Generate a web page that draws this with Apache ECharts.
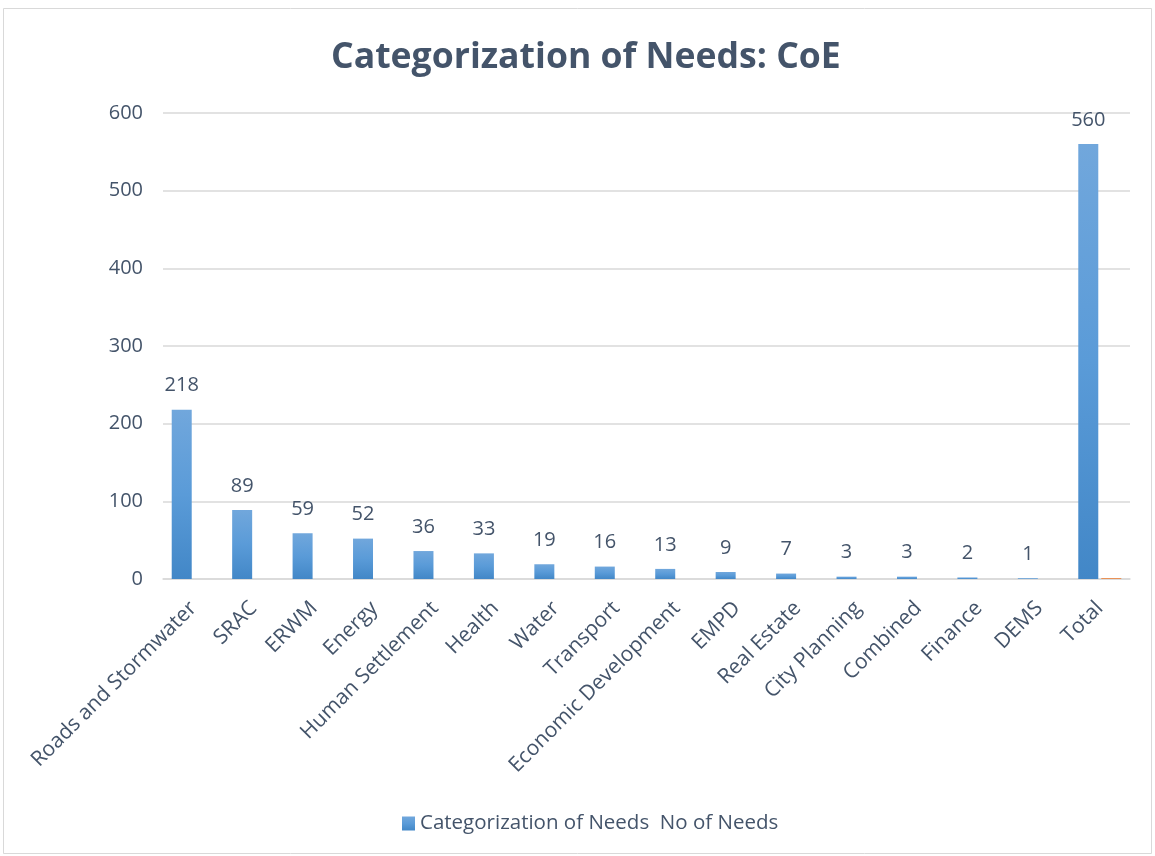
<!DOCTYPE html>
<html>
<head>
<meta charset="utf-8">
<script src="https://cdn.jsdelivr.net/npm/echarts@6/dist/echarts.min.js"></script>
<style>
  html, body { margin: 0; padding: 0; background: #ffffff; }
  #chart { width: 1155px; height: 856px; }
</style>
</head>
<body>
<div id="chart"></div>
<script>
// Needs per category for CoE
const categories = [
  'Roads and Stormwater', 'SRAC', 'ERWM', 'Energy', 'Human Settlement',
  'Health', 'Water', 'Transport', 'Economic Development', 'EMPD',
  'Real Estate', 'City Planning', 'Combined', 'Finance', 'DEMS', 'Total'
];
const noOfNeeds = [218, 89, 59, 52, 36, 33, 19, 16, 13, 9, 7, 3, 3, 2, 1, 560];
// Secondary column, only present on the Total row
const secondSeries = [null, null, null, null, null, null, null, null, null, null, null, null, null, null, null, 1];
const yTicks = { min: 0, max: 600, interval: 100 };

const textColor = '#44546a';
const fontFamily = '"Open Sans", Lato, sans-serif';

const chart = echarts.init(document.getElementById('chart'), null, { renderer: 'canvas' });

chart.setOption({
  animation: false,
  backgroundColor: '#ffffff',
  textStyle: { fontFamily: fontFamily },
  title: {
    text: 'Categorization of Needs: CoE',
    left: 326,
    top: 35,
    textStyle: { fontSize: 35.6, fontWeight: 'bold', color: textColor, fontFamily: fontFamily }
  },
  graphic: [{
    type: 'rect',
    shape: { x: 3.5, y: 8.5, width: 1148, height: 845 },
    style: { fill: 'none', stroke: '#d9d9d9', lineWidth: 1 },
    silent: true
  }],
  legend: {
    data: ['Categorization of Needs  No of Needs'],
    bottom: 17,
    left: 397,
    itemWidth: 13,
    itemHeight: 14,
    itemGap: 5,
    icon: 'rect',
    textStyle: { fontSize: 20.5, color: textColor, fontFamily: fontFamily }
  },
  grid: { left: 163, right: 25, top: 113, bottom: 277, containLabel: false },
  xAxis: {
    type: 'category',
    data: categories,
    axisTick: { show: false },
    axisLine: { lineStyle: { color: '#d9d9d9', width: 1.5 } },
    axisLabel: {
      rotate: 45,
      interval: 0,
      margin: 26,
      fontSize: 21,
      color: textColor,
      fontFamily: fontFamily
    }
  },
  yAxis: {
    type: 'value',
    min: yTicks.min,
    max: yTicks.max,
    interval: yTicks.interval,
    axisLine: { show: false },
    axisTick: { show: false },
    splitLine: { lineStyle: { color: '#d9d9d9', width: 1.5 } },
    axisLabel: { fontSize: 20, color: textColor, margin: 20, fontFamily: fontFamily }
  },
  series: [
    {
      name: 'Categorization of Needs  No of Needs',
      type: 'bar',
      data: noOfNeeds,
      barWidth: 20,
      barGap: '15%',
      itemStyle: {
        color: {
          type: 'linear', x: 0, y: 0, x2: 0, y2: 1,
          colorStops: [
            { offset: 0, color: '#71a7dc' },
            { offset: 0.5, color: '#5a9bd8' },
            { offset: 1, color: '#4287c7' }
          ]
        }
      },
      label: {
        show: true,
        position: 'top',
        distance: 14,
        fontSize: 20,
        color: textColor,
        fontFamily: fontFamily
      }
    },
    {
      name: 'Total share',
      type: 'bar',
      data: secondSeries,
      barWidth: 20,
      itemStyle: { color: '#ed7d31' }
    }
  ]
});
</script>
</body>
</html>
